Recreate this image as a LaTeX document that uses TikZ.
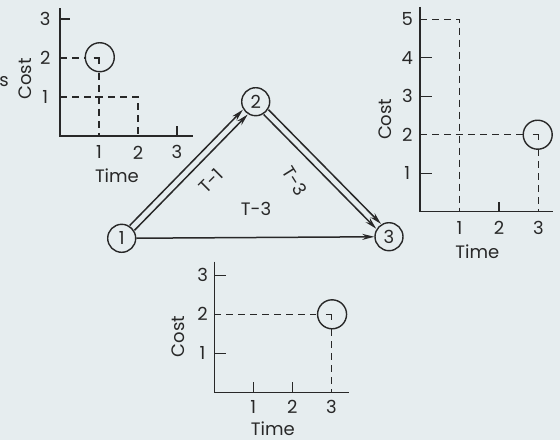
\documentclass[tikz,border=0pt]{standalone}
\usepackage{fontspec}
\setmainfont{Poppins}
\usetikzlibrary{arrows.meta}
\definecolor{bg}{RGB}{230,237,239}
\definecolor{ink}{RGB}{40,40,40}
\tikzset{
  lbl/.style={font=\fontsize{18}{21}\selectfont, text=ink, inner sep=0pt},
  axis/.style={draw=ink, line width=1.5pt},
  tickline/.style={draw=ink, line width=1.4pt},
  guide/.style={draw=ink, line width=1.1pt, dash pattern=on 7pt off 5pt},
  cornermark/.style={draw=ink, line width=1.1pt},
  pick/.style={circle, draw=ink, line width=1.4pt, minimum size=29pt, inner sep=0pt},
  event/.style={circle, draw=ink, line width=1.4pt, minimum size=28pt, inner sep=0pt, font=\fontsize{18}{21}\selectfont, text=ink},
  act/.style={draw=ink, line width=1.5pt, -{Stealth[length=12pt,width=6pt]}}
}
\begin{document}
\begin{tikzpicture}[x=1pt,y=-1pt]
\fill[bg] (0,0) rectangle (560,440);
\useasboundingbox (0,0) rectangle (560,440);
\node[lbl] (stray) at (4,82) {s};

% ---------- graph 1 (top left) ----------
\begin{scope}[shift={(60,136)}, x=39pt, y=39pt]
  \coordinate (g1o) at (0,0);
  \coordinate (g1top) at (0,3.28);
  \coordinate (g1end) at (3.4,0);
  \draw[axis] (g1top) -- (g1o) -- (g1end);
  \draw[tickline] (0,3) -- (0.25,3);
  \draw[tickline] (3,0) -- (3,0.25);
  \node[pick] (c1) at (1.02,2.02) {};
  \draw[guide] (0,2) -- (0.66,2);
  \draw[guide] (1,1.62) -- (1,0);
  \draw[cornermark] (0.86,2) -- (1,2) -- (1,1.85);
  \draw[guide] (0,1) -- (2,1) -- (2,0);
  \draw[cornermark] (0.9,1) -- (1.1,1);
  \node[lbl] (g1y1) at (-0.38,1) {1};
  \node[lbl] (g1y2) at (-0.38,2) {2};
  \node[lbl] (g1y3) at (-0.38,3) {3};
  \node[lbl] (g1x1) at (1,-0.42) {1};
  \node[lbl] (g1x2) at (2,-0.42) {2};
  \node[lbl] (g1x3) at (3,-0.42) {3};
  \node[lbl, rotate=90] (g1cost) at (-0.9,1.46) {Cost};
  \node[lbl] (g1time) at (1.46,-1.02) {Time};
\end{scope}

% ---------- graph 2 (right) ----------
\begin{scope}[shift={(420,211.7)}, x=39.5pt, y=38.5pt]
  \coordinate (g2o) at (0,0);
  \coordinate (g2top) at (0,5.32);
  \coordinate (g2end) at (3.36,0);
  \draw[axis] (g2top) -- (g2o) -- (g2end);
  \draw[tickline] (0,1) -- (0.3,1);
  \draw[tickline] (0,3) -- (0.3,3);
  \draw[tickline] (0,4) -- (0.3,4);
  \draw[tickline] (2,0) -- (2,0.25);
  \draw[guide] (0,5) -- (1,5) -- (1,0);
  \draw[cornermark] (0.9,2) -- (1.1,2);
  \node[pick] (c2) at (2.98,2.0) {};
  \draw[guide] (0,2) -- (2.6,2);
  \draw[guide] (3,1.62) -- (3,0);
  \draw[cornermark] (2.86,2) -- (3,2) -- (3,1.85);
  \node[lbl] (g2y1) at (-0.32,1) {1};
  \node[lbl] (g2y2) at (-0.32,2) {2};
  \node[lbl] (g2y3) at (-0.32,3) {3};
  \node[lbl] (g2y4) at (-0.32,4) {4};
  \node[lbl] (g2y5) at (-0.32,5) {5};
  \node[lbl] (g2x1) at (1,-0.43) {1};
  \node[lbl] (g2x2) at (2,-0.43) {2};
  \node[lbl] (g2x3) at (3,-0.43) {3};
  \node[lbl, rotate=90] (g2cost) at (-0.89,2.4) {Cost};
  \node[lbl] (g2time) at (1.45,-1.05) {Time};
\end{scope}

% ---------- graph 3 (bottom) ----------
\begin{scope}[shift={(214.3,392.3)}, x=39pt, y=39pt]
  \coordinate (g3o) at (0,0);
  \coordinate (g3top) at (0,3.35);
  \coordinate (g3end) at (3.46,0);
  \draw[axis] (g3top) -- (g3o) -- (g3end);
  \draw[tickline] (0,1) -- (0.3,1);
  \draw[tickline] (0,3) -- (0.3,3);
  \draw[tickline] (1,0) -- (1,0.27);
  \draw[tickline] (2,0) -- (2,0.27);
  \node[pick] (c3) at (3.02,2.0) {};
  \draw[guide] (0,2) -- (2.62,2);
  \draw[guide] (3,1.62) -- (3,0);
  \draw[cornermark] (2.86,2) -- (3,2) -- (3,1.85);
  \node[lbl] (g3y1) at (-0.3,1) {1};
  \node[lbl] (g3y2) at (-0.3,2) {2};
  \node[lbl] (g3y3) at (-0.3,3) {3};
  \node[lbl] (g3x1) at (1,-0.37) {1};
  \node[lbl] (g3x2) at (2,-0.37) {2};
  \node[lbl] (g3x3) at (3,-0.37) {3};
  \node[lbl, rotate=90] (g3cost) at (-0.92,1.43) {Cost};
  \node[lbl] (g3time) at (1.5,-0.93) {Time};
\end{scope}

% ---------- network ----------
\node[event] (n1) at (121.7,238.3) {1};
\node[event] (n2) at (255.7,101.7) {2};
\node[event] (n3) at (389,236.7) {3};

\draw[act] ([shift={(-2.4,-2.4)}]n1.45) -- ([shift={(-2.4,-2.4)}]n2.225);
\draw[act] ([shift={(2.4,2.4)}]n1.45) -- ([shift={(2.4,2.4)}]n2.225);
\draw[act] ([shift={(2.4,-2.4)}]n2.-45) -- ([shift={(2.4,-2.4)}]n3.135);
\draw[act] ([shift={(-2.4,2.4)}]n2.-45) -- ([shift={(-2.4,2.4)}]n3.135);
\draw[act] (n1) -- (n3);

\node[lbl, rotate=45] (t1) at (211,181) {T-1};
\node[lbl, rotate=-58] (t3a) at (295,181) {T-3};
\node[lbl] (t3b) at (256,209) {T-3};
\end{tikzpicture}
\end{document}
